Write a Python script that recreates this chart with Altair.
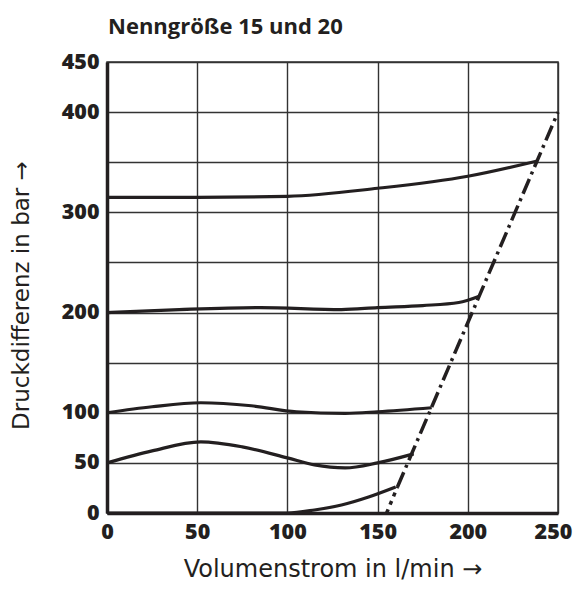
import altair as alt
import pandas as pd

# Curves (x: l/min, y: bar)
c0_x = [0, 50, 100, 115, 130, 145, 160]
c0_y = [0, 0, 0, 3, 8, 16, 26]

c50_x = [0, 25, 52, 75, 100, 115, 132, 150, 170]
c50_y = [50, 62, 71, 66, 55, 48, 45, 50, 59]

c100_x = [0, 25, 52, 80, 105, 132, 150, 180]
c100_y = [100, 106, 110, 107, 101, 99.5, 101, 105]

c200_x = [0, 40, 85, 130, 150, 175, 195, 206]
c200_y = [200, 203, 205, 203, 205, 207, 210, 216]

c315_x = [0, 50, 100, 150, 200, 238]
c315_y = [315, 315, 316, 324, 336, 351]

limit_x = [161, 250]
limit_y = [26, 400]
limit_low_x = [155, 161]
limit_low_y = [0, 26]

x_ticks = [0, 50, 100, 150, 200, 250]
y_ticks = [0, 50, 100, 150, 200, 250, 300, 350, 400, 450]
y_hidden = [150, 250, 350]

rows = []
for name, xs, ys in [("0", c0_x, c0_y), ("50", c50_x, c50_y), ("100", c100_x, c100_y),
                     ("200", c200_x, c200_y), ("315", c315_x, c315_y)]:
    for i, (a, b) in enumerate(zip(xs, ys)):
        rows.append({"series": name, "x": a, "y": b, "o": i})
curves = pd.DataFrame(rows)
lim = pd.DataFrame({"x": limit_x, "y": limit_y})
lim_low = pd.DataFrame({"x": limit_low_x, "y": limit_low_y})

INK = "#231f20"
hide_expr = " || ".join(f"datum.value == {v}" for v in y_hidden)

xs = alt.Scale(domain=[0, 250], nice=False, zero=False)
ys = alt.Scale(domain=[0, 450], nice=False, zero=False)

x_axis = alt.Axis(values=x_ticks, title="Volumenstrom in l/min →", grid=True,
                  labelFlush=False, labelOverlap=False,
                  labelOffset={"condition": {"test": "datum.value == 250", "value": -5}, "value": 0},
                  titleY=63, titleBaseline="alphabetic", titleFontSize=24)
y_axis = alt.Axis(values=y_ticks, title="Druckdifferenz in bar →", grid=True,
                  labelFlush=False, labelOverlap=False,
                  labelExpr=f"({hide_expr}) ? '' : datum.label",
                  titleX=-79, titleY=233, titleBaseline="alphabetic", titleAlign="center",
                  titleAngle=270, titleFontSize=23)

base_x = alt.X("x:Q", scale=xs, axis=x_axis)
base_y = alt.Y("y:Q", scale=ys, axis=y_axis)

lines = alt.Chart(curves).mark_line(interpolate="monotone", strokeWidth=3.2, color=INK).encode(
    x=base_x, y=base_y, detail="series:N", order="o:Q")

limit = alt.Chart(lim).mark_line(strokeWidth=3.5, color=INK, strokeDash=[16, 5, 3, 5]).encode(
    x=alt.X("x:Q", scale=xs), y=alt.Y("y:Q", scale=ys))
limit_low = alt.Chart(lim_low).mark_line(strokeWidth=3.5, color=INK, strokeDash=[4, 5]).encode(
    x=alt.X("x:Q", scale=xs), y=alt.Y("y:Q", scale=ys))

chart = alt.layer(lines, limit, limit_low).properties(
    width=451, height=451,
    title=alt.TitleParams("Nenngröße 15 und 20", anchor="start", frame="group",
                          font="Open Sans", fontSize=22, fontWeight="bold", color=INK,
                          offset=12, dx=1),
    autosize=alt.AutoSizeParams(type="none"),
    padding={"left": 99, "top": 54, "right": 16, "bottom": 70},
).configure_view(stroke="#333333", strokeWidth=1.5).configure_axis(
    gridColor="#333333", gridWidth=1.4, gridOpacity=1,
    domainColor=INK, domainWidth=3.5, ticks=False,
    labelFont="Open Sans", labelFontWeight=800, labelFontSize=21.5, labelColor=INK,
    titleFont="DejaVu Sans", titleFontWeight="normal", titleColor=INK,
).configure_axisX(labelPadding=8).configure_axisY(labelPadding=8)

chart.save("out.html", embed_options={"renderer": "svg", "actions": False})
